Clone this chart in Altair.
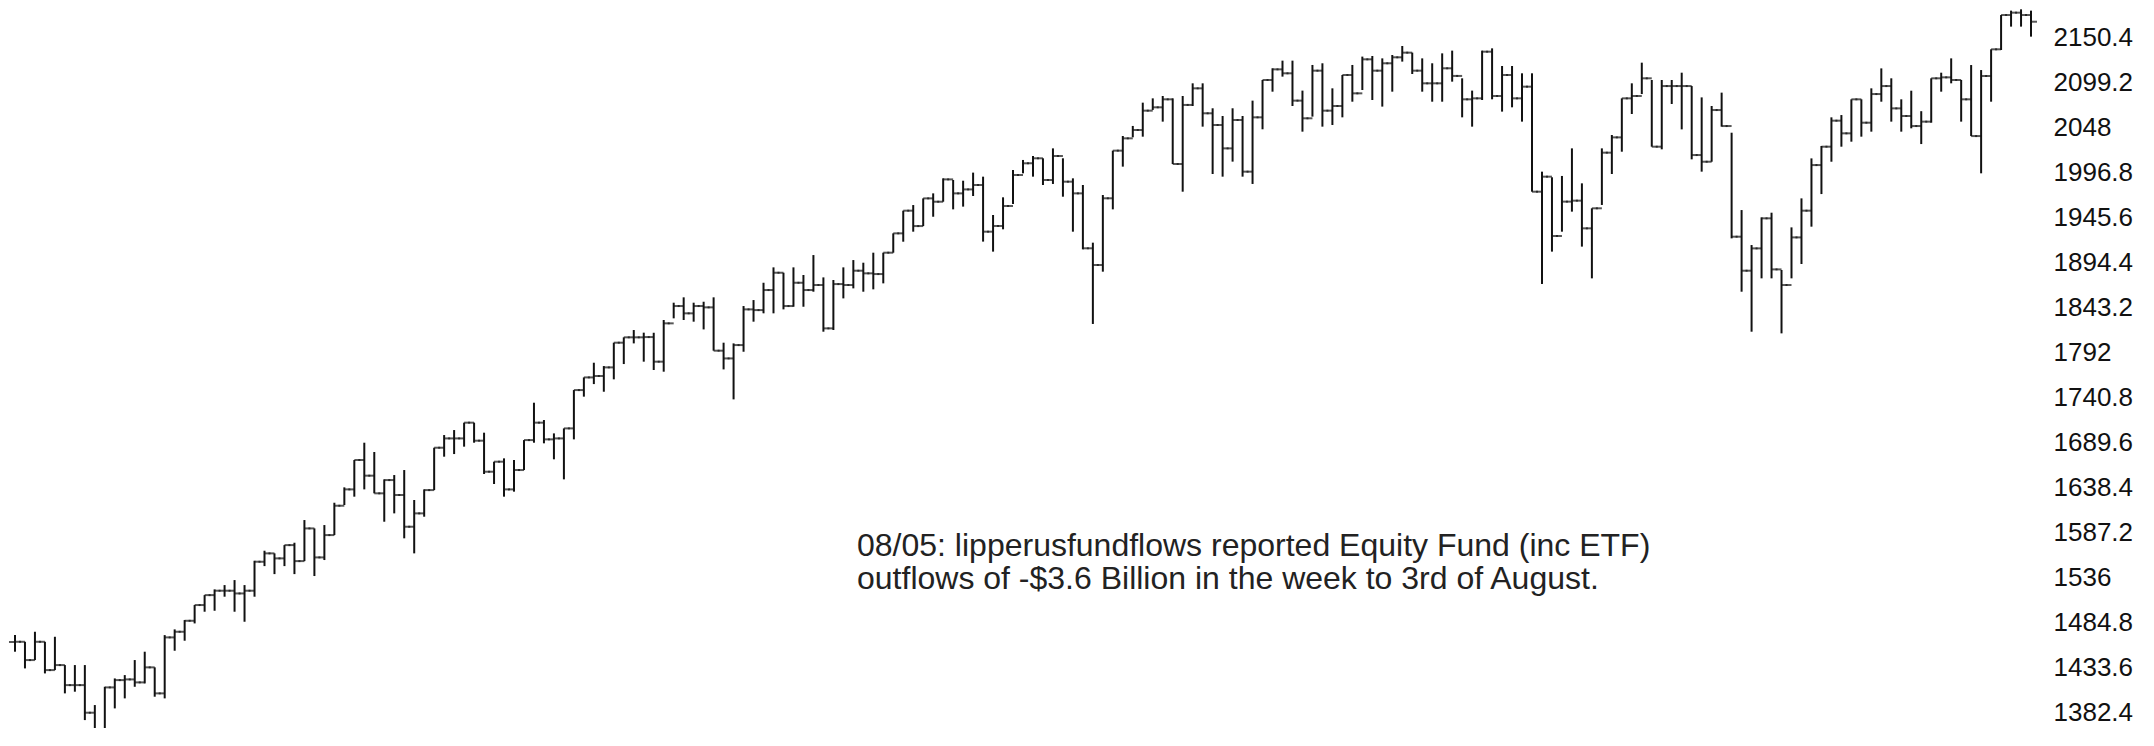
import altair as alt
import pandas as pd

# Weekly OHLC bars (oldest -> newest)
highs = [
    1470.0, 1462.3, 1473.7, 1462.3, 1468.0, 1435.8, 1435.8, 1435.8, 1390.3, 1411.1,
    1420.6, 1424.4, 1441.5, 1451.0, 1433.2, 1469.9, 1476.4, 1487.0, 1504.1, 1515.4,
    1521.9, 1526.8, 1532.5, 1526.8, 1554.5, 1565.9, 1562.9, 1572.3, 1575.0, 1600.8,
    1591.3, 1595.1, 1620.5, 1638.0, 1669.1, 1688.8, 1678.2, 1647.1, 1652.0, 1657.7,
    1623.6, 1635.7, 1683.1, 1697.5, 1703.2, 1711.6, 1711.6, 1700.2, 1667.2, 1671.0,
    1669.1, 1691.8, 1734.3, 1714.6, 1699.4, 1705.1, 1748.7, 1763.1, 1779.8, 1776.0,
    1802.6, 1808.7, 1817.0, 1814.0, 1813.9, 1828.4, 1848.1, 1854.2, 1848.1, 1849.2,
    1854.2, 1802.6, 1801.8, 1844.3, 1851.1, 1870.8, 1888.3, 1882.2, 1888.3, 1879.6,
    1902.3, 1876.9, 1873.9, 1888.3, 1896.6, 1893.6, 1905.0, 1905.0, 1927.0, 1952.8,
    1959.2, 1966.8, 1972.5, 1989.6, 1987.7, 1986.9, 1996.1, 1991.5, 1947.9, 1968.0,
    1999.1, 2010.5, 2015.0, 2012.4, 2023.7, 2012.4, 1989.6, 1982.0, 1916.4, 1970.6,
    2021.1, 2037.8, 2049.2, 2075.7, 2080.6, 2083.3, 2080.6, 2083.3, 2097.7, 2097.7,
    2069.3, 2060.5, 2069.3, 2060.5, 2078.0, 2101.5, 2114.8, 2123.5, 2123.5, 2089.4,
    2118.6, 2120.5, 2092.0, 2107.2, 2118.6, 2128.1, 2128.8, 2126.1, 2129.9, 2140.2,
    2132.6, 2126.1, 2120.5, 2131.8, 2134.9, 2103.4, 2089.4, 2134.9, 2137.5, 2117.4,
    2117.4, 2109.1, 2109.1, 1997.2, 1990.8, 1992.3, 2023.7, 1983.9, 1955.5, 2023.7,
    2038.9, 2080.6, 2097.7, 2121.2, 2101.5, 2101.5, 2101.5, 2109.8, 2094.6, 2081.7,
    2071.9, 2087.1, 2041.5, 1953.5, 1913.7, 1945.2, 1950.5, 1885.3, 1933.8, 1966.8,
    2012.3, 2026.4, 2059.0, 2061.6, 2079.5, 2079.5, 2092.0, 2114.7, 2103.4, 2079.5,
    2089.3, 2066.0, 2103.4, 2109.8, 2126.1, 2101.5, 2118.5, 2112.8, 2136.4, 2175.4,
    2180.4, 2181.9, 2180.4,
]
lows = [
    1451.0, 1432.0, 1441.5, 1426.3, 1430.1, 1403.6, 1405.5, 1373.2, 1343.0, 1361.8,
    1386.5, 1397.9, 1411.1, 1414.9, 1399.8, 1397.9, 1452.1, 1463.5, 1483.2, 1496.5,
    1497.6, 1513.6, 1496.5, 1485.1, 1513.6, 1548.4, 1539.3, 1548.4, 1539.3, 1554.1,
    1537.1, 1555.3, 1583.7, 1617.9, 1627.4, 1635.7, 1631.2, 1598.9, 1608.4, 1580.0,
    1562.9, 1604.6, 1634.9, 1672.9, 1675.9, 1684.3, 1688.8, 1653.2, 1641.8, 1627.4,
    1633.1, 1657.7, 1688.8, 1688.1, 1669.9, 1647.1, 1692.6, 1741.2, 1755.5, 1746.8,
    1760.9, 1778.3, 1801.8, 1781.0, 1771.5, 1769.6, 1830.3, 1828.4, 1826.5, 1817.7,
    1793.5, 1772.2, 1738.1, 1792.3, 1826.5, 1836.0, 1836.0, 1840.5, 1843.5, 1843.5,
    1860.6, 1815.1, 1817.0, 1853.0, 1864.4, 1860.6, 1863.3, 1870.1, 1905.0, 1917.5,
    1928.9, 1935.3, 1945.9, 1963.0, 1954.3, 1957.4, 1969.5, 1917.6, 1906.2, 1931.6,
    1960.4, 1995.3, 1991.5, 1982.0, 1983.2, 1968.7, 1928.9, 1908.8, 1823.9, 1883.4,
    1954.3, 2002.9, 2036.3, 2037.0, 2067.4, 2054.1, 2005.9, 1974.4, 2071.9, 2048.4,
    1994.5, 1991.5, 2008.6, 1991.5, 1983.2, 2045.4, 2088.2, 2105.3, 2071.9, 2042.7,
    2059.8, 2048.4, 2050.3, 2059.0, 2076.8, 2090.1, 2078.7, 2071.2, 2088.2, 2122.4,
    2108.3, 2088.2, 2076.8, 2076.8, 2099.6, 2059.0, 2048.4, 2078.7, 2079.5, 2065.5,
    2070.4, 2054.1, 1974.4, 1869.4, 1906.2, 1928.9, 1951.7, 1911.9, 1875.8, 1959.3,
    1994.5, 2019.9, 2062.8, 2085.5, 2025.6, 2022.6, 2074.2, 2045.3, 2011.2, 1997.2,
    2008.5, 2048.4, 1921.3, 1860.6, 1815.1, 1875.8, 1875.8, 1813.2, 1875.8, 1892.1,
    1934.6, 1971.7, 2008.5, 2025.6, 2031.3, 2037.0, 2042.7, 2076.8, 2054.1, 2042.7,
    2046.5, 2028.6, 2052.9, 2088.2, 2097.7, 2054.1, 2037.7, 1995.3, 2076.8, 2135.6,
    2162.2, 2162.2, 2150.8,
]
closes = [
    1462.3, 1441.5, 1462.3, 1430.1, 1435.8, 1413.0, 1413.0, 1381.6, 1361.8, 1410.4,
    1418.7, 1419.5, 1416.1, 1433.2, 1403.6, 1467.3, 1473.7, 1486.2, 1504.1, 1515.4,
    1520.4, 1520.4, 1517.3, 1520.4, 1553.4, 1562.9, 1557.2, 1572.3, 1554.1, 1591.3,
    1558.3, 1583.7, 1617.1, 1635.7, 1669.1, 1651.3, 1631.2, 1646.3, 1629.3, 1593.2,
    1608.4, 1634.9, 1683.1, 1693.7, 1693.7, 1711.6, 1691.1, 1655.8, 1667.2, 1635.7,
    1657.7, 1691.8, 1711.6, 1692.6, 1693.7, 1705.1, 1748.7, 1763.1, 1764.7, 1774.5,
    1802.6, 1808.7, 1808.7, 1809.0, 1781.0, 1824.6, 1844.3, 1836.0, 1844.3, 1842.8,
    1793.5, 1784.7, 1799.9, 1840.5, 1839.7, 1862.5, 1882.2, 1844.3, 1870.8, 1862.5,
    1868.2, 1818.9, 1869.3, 1868.2, 1884.5, 1881.5, 1880.7, 1905.0, 1927.0, 1952.8,
    1935.3, 1966.8, 1963.0, 1988.4, 1972.5, 1977.0, 1982.0, 1928.9, 1935.4, 1958.1,
    1993.4, 2006.7, 2012.4, 1987.7, 2015.0, 1985.8, 1972.5, 1910.0, 1891.0, 1966.9,
    2021.1, 2035.1, 2044.6, 2066.6, 2070.4, 2079.5, 2005.9, 2073.1, 2092.0, 2063.6,
    2050.3, 2023.7, 2056.0, 1997.2, 2059.0, 2101.5, 2113.6, 2109.1, 2078.0, 2057.9,
    2112.1, 2066.6, 2071.9, 2107.2, 2086.3, 2125.0, 2112.1, 2120.5, 2127.3, 2132.6,
    2112.1, 2097.7, 2097.7, 2114.8, 2106.1, 2079.5, 2080.6, 2133.7, 2083.3, 2107.2,
    2080.6, 2093.9, 1974.4, 1991.5, 1924.0, 1963.1, 1964.2, 1932.7, 1955.5, 2018.8,
    2036.2, 2080.6, 2083.3, 2103.4, 2025.6, 2094.6, 2094.6, 2094.6, 2016.1, 2008.5,
    2067.3, 2049.1, 1923.2, 1884.5, 1909.9, 1944.1, 1886.0, 1868.2, 1922.4, 1952.8,
    2004.7, 2025.6, 2055.2, 2040.8, 2079.5, 2052.9, 2085.5, 2094.6, 2069.2, 2060.5,
    2049.1, 2054.1, 2103.4, 2104.5, 2101.5, 2079.5, 2037.7, 2106.0, 2136.4, 2175.4,
    2178.1, 2175.4, 2167.8,
]
opens = [
    1462.0, 1462.3, 1441.5, 1462.3, 1430.1, 1435.8, 1413.0, 1413.0, 1381.6, 1361.8,
    1410.4, 1418.7, 1419.5, 1416.1, 1433.2, 1403.6, 1467.3, 1473.7, 1486.2, 1504.1,
    1515.4, 1520.4, 1520.4, 1517.3, 1520.4, 1553.4, 1562.9, 1557.2, 1572.3, 1554.1,
    1591.3, 1558.3, 1583.7, 1617.1, 1635.7, 1669.1, 1651.3, 1631.2, 1646.3, 1629.3,
    1593.2, 1608.4, 1634.9, 1683.1, 1693.7, 1693.7, 1711.6, 1691.1, 1655.8, 1667.2,
    1635.7, 1657.7, 1691.8, 1711.6, 1692.6, 1693.7, 1705.1, 1748.7, 1763.1, 1764.7,
    1774.5, 1802.6, 1808.7, 1808.7, 1809.0, 1781.0, 1824.6, 1844.3, 1836.0, 1844.3,
    1842.8, 1793.5, 1784.7, 1799.9, 1840.5, 1839.7, 1862.5, 1882.2, 1844.3, 1870.8,
    1862.5, 1868.2, 1818.9, 1869.3, 1868.2, 1884.5, 1881.5, 1880.7, 1905.0, 1927.0,
    1952.8, 1935.3, 1966.8, 1963.0, 1988.4, 1972.5, 1977.0, 1982.0, 1928.9, 1935.4,
    1958.1, 1993.4, 2006.7, 2012.4, 1987.7, 2015.0, 1985.8, 1972.5, 1910.0, 1891.0,
    1966.9, 2021.1, 2035.1, 2044.6, 2066.6, 2070.4, 2079.5, 2005.9, 2073.1, 2092.0,
    2063.6, 2050.3, 2023.7, 2056.0, 1997.2, 2059.0, 2101.5, 2113.6, 2109.1, 2078.0,
    2057.9, 2112.1, 2066.6, 2071.9, 2107.2, 2086.3, 2125.0, 2112.1, 2120.5, 2127.3,
    2132.6, 2112.1, 2097.7, 2097.7, 2114.8, 2106.1, 2079.5, 2080.6, 2133.7, 2083.3,
    2107.2, 2080.6, 2093.9, 1974.4, 1991.5, 1924.0, 1963.1, 1964.2, 1932.7, 1955.5,
    2018.8, 2036.2, 2080.6, 2083.3, 2103.4, 2025.6, 2094.6, 2094.6, 2094.6, 2016.1,
    2008.5, 2067.3, 2049.1, 1923.2, 1884.5, 1909.9, 1944.1, 1886.0, 1868.2, 1922.4,
    1952.8, 2004.7, 2025.6, 2055.2, 2040.8, 2079.5, 2052.9, 2085.5, 2094.6, 2069.2,
    2060.5, 2049.1, 2054.1, 2103.4, 2104.5, 2101.5, 2079.5, 2037.7, 2106.0, 2136.4,
    2175.4, 2178.1, 2175.4,
]

tick_values = [1382.4, 1433.6, 1484.8, 1536, 1587.2, 1638.4, 1689.6, 1740.8,
               1792, 1843.2, 1894.4, 1945.6, 1996.8, 2048, 2099.2, 2150.4]

note_line1 = "08/05: lipperusfundflows reported Equity Fund (inc ETF)"
note_line2 = "outflows of -$3.6 Billion in the week to 3rd of August."

df = pd.DataFrame({
    "i": list(range(len(closes))),
    "open": opens, "high": highs, "low": lows, "close": closes,
})

BAR = "#111111"
xenc = alt.X("i:Q", scale=alt.Scale(domain=[-0.7, 203.2], nice=False, zero=False), axis=None)
yscale = alt.Scale(domain=[1364.2, 2183.4], nice=False, zero=False)
yaxis = alt.Axis(orient="right", values=tick_values, format=".1~f",
                 domain=False, ticks=False, grid=False, labelPadding=10,
                 labelFontSize=26, labelFont="Liberation Sans", labelColor="#111",
                 labelBaseline="middle", labelFlush=False, labelOverlap=False,
                 title=None)

base = alt.Chart(df)

hl = base.mark_rule(color=BAR, strokeWidth=2).encode(
    x=xenc,
    y=alt.Y("low:Q", scale=yscale, axis=yaxis),
    y2="high:Q",
)
op = base.mark_tick(orient="horizontal", color=BAR, thickness=2, size=6, xOffset=-3).encode(
    x=xenc, y=alt.Y("open:Q", scale=yscale, axis=yaxis)
)
cl = base.mark_tick(orient="horizontal", color=BAR, thickness=2, size=6, xOffset=3).encode(
    x=xenc, y=alt.Y("close:Q", scale=yscale, axis=yaxis)
)

note1 = alt.Chart(pd.DataFrame({"t": [note_line1]})).mark_text(
    align="left", baseline="alphabetic", fontSize=32, font="Liberation Sans", color="#222",
).encode(x=alt.value(849), y=alt.value(548), text="t:N")
note2 = alt.Chart(pd.DataFrame({"t": [note_line2]})).mark_text(
    align="left", baseline="alphabetic", fontSize=32, font="Liberation Sans", color="#222",
).encode(x=alt.value(849), y=alt.value(581), text="t:N")

chart = alt.layer(hl, op, cl, note1, note2).properties(
    width=2035, height=720,
    padding={"left": 0, "top": 0, "right": 100, "bottom": 0},
    autosize=alt.AutoSizeParams(type="none"),
    background="white",
).configure_view(stroke=None)

chart.save("out.html", embed_options={"renderer": "svg", "actions": False})
